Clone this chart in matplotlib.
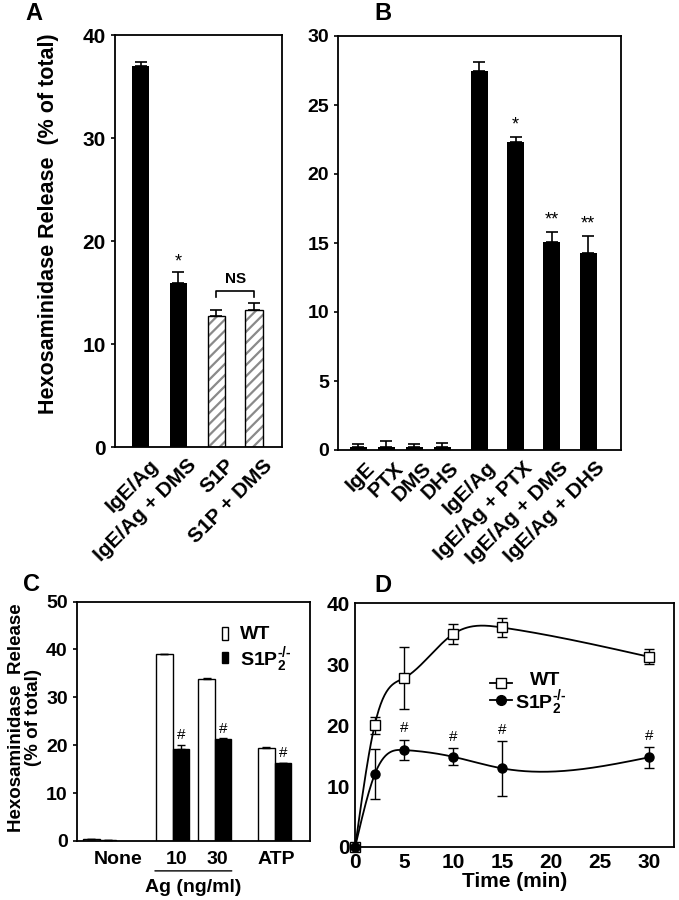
import numpy as np
import matplotlib
matplotlib.use("Agg")
import matplotlib.pyplot as plt
import matplotlib.transforms as mtransforms
from matplotlib.patches import Rectangle

plt.rcParams["font.family"] = ["Liberation Sans", "DejaVu Sans"]
plt.rcParams["font.weight"] = "bold"
plt.rcParams["axes.labelweight"] = "bold"
plt.rcParams["mathtext.fontset"] = "custom"
plt.rcParams["mathtext.rm"] = "Liberation Sans:bold"
plt.rcParams["mathtext.default"] = "rm"
plt.rcParams["hatch.linewidth"] = 1.6
plt.rcParams["axes.linewidth"] = 1.3

# -------------------------
# Data
# -------------------------
# Panel A
a_labels = ["IgE/Ag", "IgE/Ag + DMS", "S1P", "S1P + DMS"]
a_values = [37.0, 15.9, 12.7, 13.3]
a_errors = [0.4, 1.1, 0.6, 0.7]

# Panel B
b_labels = ["IgE", "PTX", "DMS", "DHS", "IgE/Ag",
            "IgE/Ag + PTX", "IgE/Ag + DMS", "IgE/Ag + DHS"]
b_values = [0.2, 0.2, 0.2, 0.25, 27.5, 22.3, 15.1, 14.3]
b_errors = [0.2, 0.45, 0.2, 0.25, 0.6, 0.4, 0.7, 1.2]
b_marks = ["", "", "", "", "", "*", "**", "**"]

# Panel C
c_groups = ["None", "10", "30", "ATP"]
c_wt = [0.4, 39.0, 33.9, 19.5]
c_wt_err = [0.0, 0.15, 0.15, 0.2]
c_ko = [0.3, 19.3, 21.3, 16.2]
c_ko_err = [0.0, 0.7, 0.1, 0.15]
c_marks = ["", "#", "#", "#"]

# Panel D
d_time = [0, 2, 5, 10, 15, 30]
d_wt = [0.0, 20.0, 27.7, 34.9, 36.0, 31.2]
d_wt_err = [0.0, 1.4, 5.1, 1.6, 1.5, 1.2]
d_ko = [0.0, 11.9, 15.9, 14.8, 12.9, 14.7]
d_ko_err = [0.0, 4.1, 1.7, 1.4, 4.5, 1.7]
d_marks = ["", "", "#", "#", "#", "#"]

KO_LABEL = r"S1P$_{2}^{\text{-/-}}$"


def natural_spline(x, y, n=300):
    # natural cubic spline, used only to draw the smooth connecting line
    x = np.asarray(x, float)
    y = np.asarray(y, float)
    k = len(x)
    h = np.diff(x)
    A = np.zeros((k, k))
    r = np.zeros(k)
    A[0, 0] = A[-1, -1] = 1
    for i in range(1, k - 1):
        A[i, i - 1] = h[i - 1]
        A[i, i] = 2 * (h[i - 1] + h[i])
        A[i, i + 1] = h[i]
        r[i] = 3 * ((y[i + 1] - y[i]) / h[i] - (y[i] - y[i - 1]) / h[i - 1])
    c = np.linalg.solve(A, r)
    xs = np.linspace(x[0], x[-1], n)
    idx = np.clip(np.searchsorted(x, xs) - 1, 0, k - 2)
    dx = xs - x[idx]
    b = (y[1:] - y[:-1]) / h - h * (2 * c[:-1] + c[1:]) / 3
    d = (c[1:] - c[:-1]) / (3 * h)
    ys = y[idx] + b[idx] * dx + c[idx] * dx ** 2 + d[idx] * dx ** 3
    return xs, ys


def shift_labels(ax, dx_px):
    off = mtransforms.ScaledTranslation(dx_px / 100, 0, fig.dpi_scale_trans)
    for lab in ax.get_xticklabels():
        lab.set_transform(lab.get_transform() + off)


fig = plt.figure(figsize=(6.79, 9.0), dpi=100)

# -------------------------
# Panel A
# -------------------------
axA = fig.add_axes([0.169, 0.503, 0.247, 0.458])
xa = np.arange(len(a_values))
wa = 0.47
axA.bar(xa[:2], a_values[:2], width=wa, color="black", zorder=2)
axA.bar(xa[2:], a_values[2:], width=wa, color="white",
        edgecolor="#8a8a8a", hatch="///", linewidth=0, zorder=2)
axA.bar(xa[2:], a_values[2:], width=wa, fill=False,
        edgecolor="black", linewidth=1.0, zorder=3)
axA.errorbar(xa, a_values, yerr=[np.zeros(4), a_errors], fmt="none",
             ecolor="black", elinewidth=1.2, capsize=4, capthick=1.2,
             zorder=4)
axA.set_xlim(-0.68, 3.74)
axA.set_ylim(0, 40)
axA.set_yticks([0, 10, 20, 30, 40])
axA.set_xticks(xa)
axA.set_xticklabels(a_labels, rotation=45, ha="right",
                    rotation_mode="anchor", fontsize=15)
axA.tick_params(axis="y", labelsize=15, length=3, width=1.2)
axA.tick_params(axis="x", length=0, pad=6)
shift_labels(axA, 8)
axA.text(xa[1], 17.2, "*", ha="center", va="bottom", fontsize=13,
         fontweight="normal")
axA.plot([xa[2], xa[2], xa[3], xa[3]], [14.6, 15.2, 15.2, 14.6],
         color="black", lw=1.2)
axA.text((xa[2] + xa[3]) / 2, 15.7, "NS", ha="center", va="bottom",
         fontsize=11)

# -------------------------
# Panel B
# -------------------------
axB = fig.add_axes([0.498, 0.500, 0.417, 0.460])
xb = np.concatenate([np.arange(4) * 0.78, 3.36 + np.arange(4) * 1.01])
axB.bar(xb, b_values, width=0.47, color="black", zorder=2)
axB.errorbar(xb, b_values, yerr=[np.zeros(8), b_errors], fmt="none",
             ecolor="black", elinewidth=1.2, capsize=4, capthick=1.2,
             zorder=3)
for xi, v, e, m in zip(xb, b_values, b_errors, b_marks):
    if m:
        axB.text(xi, v + e + 0.25, m, ha="center", va="bottom",
                 fontsize=13, fontweight="normal")
axB.set_xlim(-0.56, 7.31)
axB.set_ylim(0, 30)
axB.set_yticks([0, 5, 10, 15, 20, 25, 30])
axB.set_xticks(xb)
axB.set_xticklabels(b_labels, rotation=45, ha="right",
                    rotation_mode="anchor", fontsize=15)
axB.tick_params(axis="y", labelsize=14, length=3, width=1.2)
axB.tick_params(axis="x", length=0, pad=6)
shift_labels(axB, 7)

fig.text(0.071, 0.752, "Hexosaminidase Release  (% of total)",
         rotation=90, ha="center", va="center", fontsize=15.5)

# -------------------------
# Panel C
# -------------------------
axC = fig.add_axes([0.113, 0.0656, 0.343, 0.266])
xc = np.array([0, 1.0, 1.58, 2.4])
wc = 0.225
axC.bar(xc - wc / 2, c_wt, width=wc, color="white", edgecolor="black",
        linewidth=1.0, zorder=2)
axC.bar(xc + wc / 2, c_ko, width=wc, color="black", edgecolor="black",
        linewidth=1.0, zorder=2)
axC.errorbar(xc - wc / 2, c_wt, yerr=[np.zeros(4), c_wt_err], fmt="none",
             ecolor="black", elinewidth=1.0, capsize=3, zorder=3)
axC.errorbar(xc + wc / 2, c_ko, yerr=[np.zeros(4), c_ko_err], fmt="none",
             ecolor="black", elinewidth=1.0, capsize=3, zorder=3)
for xi, v, e, m in zip(xc, c_ko, c_ko_err, c_marks):
    if m:
        axC.text(xi + wc / 2, v + e + 0.6, m, ha="center", va="bottom",
                 fontsize=11, fontweight="normal")
axC.set_xlim(-0.315, 2.88)
axC.set_ylim(0, 50)
axC.set_yticks([0, 10, 20, 30, 40, 50])
axC.set_xticks([0.25, 1.05, 1.62, 2.42])
axC.set_xticklabels(c_groups, fontsize=14)
axC.tick_params(axis="y", labelsize=14, length=3, width=1.2)
axC.tick_params(axis="x", length=0, pad=7)
axC.annotate("", xy=(0.72, -0.125), xytext=(1.85, -0.125),
             xycoords=("data", "axes fraction"),
             arrowprops=dict(arrowstyle="-", lw=1.0, color="black"))
axC.text((0.72 + 1.85) / 2, -0.16, "Ag (ng/ml)", ha="center", va="top",
         fontsize=14, transform=axC.get_xaxis_transform())
# legend drawn by hand (narrow swatches)
axC.add_patch(Rectangle((0.622, 0.841), 0.028, 0.054, facecolor="white",
                        edgecolor="black", lw=1.0,
                        transform=axC.transAxes))
axC.add_patch(Rectangle((0.622, 0.745), 0.028, 0.046, facecolor="black",
                        edgecolor="black", lw=1.0,
                        transform=axC.transAxes))
axC.text(0.70, 0.862, "WT", ha="left", va="center", fontsize=14,
         transform=axC.transAxes)
axC.text(0.70, 0.757, KO_LABEL, ha="left", va="center", fontsize=14,
         transform=axC.transAxes)

fig.text(0.037, 0.203, "Hexosaminidase  Release\n(% of total)",
         rotation=90, ha="center", va="center", fontsize=13.5,
         linespacing=1.05)

# -------------------------
# Panel D
# -------------------------
axD = fig.add_axes([0.523, 0.0589, 0.470, 0.271])
xs, ys = natural_spline(d_time, d_wt)
axD.plot(xs, ys, color="black", lw=1.3, zorder=2)
xs, ys = natural_spline(d_time, d_ko)
axD.plot(xs, ys, color="black", lw=1.3, zorder=2)
axD.errorbar(d_time, d_wt, yerr=d_wt_err, fmt="s", ms=7, mfc="white",
             mec="black", mew=1.0, ecolor="black", elinewidth=1.0,
             capsize=3.5, zorder=4, clip_on=False)
axD.errorbar(d_time, d_ko, yerr=d_ko_err, fmt="o", ms=6.5, mfc="black",
             mec="black", ecolor="black", elinewidth=1.0, capsize=3.5,
             zorder=4, clip_on=False)
for t, v, e, m in zip(d_time, d_ko, d_ko_err, d_marks):
    if m:
        axD.text(t, v + e + 0.7, m, ha="center", va="bottom", fontsize=11,
                 fontweight="normal")
axD.set_xlim(0, 32.6)
axD.set_ylim(0, 40)
axD.set_xticks([0, 5, 10, 15, 20, 25, 30])
axD.set_yticks([0, 10, 20, 30, 40])
axD.tick_params(axis="both", labelsize=15, length=0, pad=4)
axD.set_xlabel("Time (min)", fontsize=15, labelpad=0)
# legend drawn by hand
for yy, yt, mk, fc, lab, tx in [
        (0.672, 0.665, "s", "white", "WT", 0.549),
        (0.603, 0.570, "o", "black", KO_LABEL, 0.500)]:
    axD.plot([0.423, 0.492], [yy, yy], color="black", lw=1.3,
             transform=axD.transAxes)
    axD.plot([0.458], [yy], marker=mk, ms=7, mfc=fc, mec="black",
             transform=axD.transAxes)
    axD.text(tx, yt, lab, ha="left", va="baseline", fontsize=14,
             transform=axD.transAxes)

# panel letters
for txt, x, y in [("A", 0.050, 0.985), ("B", 0.564, 0.985),
                  ("C", 0.047, 0.351), ("D", 0.564, 0.350)]:
    fig.text(x, y, txt, ha="center", va="center", fontsize=17)

plt.savefig("out.png", dpi=100)
plt.close()
